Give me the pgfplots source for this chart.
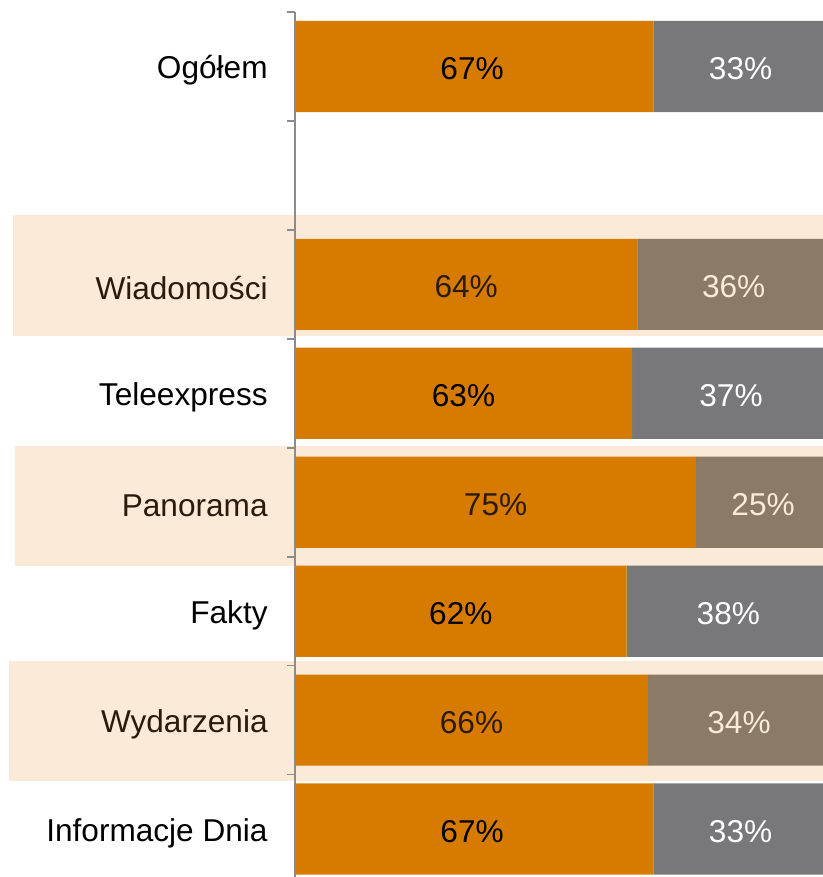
\documentclass[border=0pt]{standalone}
\usepackage{pgfplots}
\pgfplotsset{compat=1.18}
\usepackage{fontspec}
\setmainfont{Liberation Sans}
\definecolor{barorange}{HTML}{D67B00}
\definecolor{bargray}{HTML}{78787A}
\definecolor{bartaupe}{HTML}{8A7A66}
\definecolor{band}{HTML}{FBEAD8}
\definecolor{darktxt}{HTML}{2B1B0C}
\definecolor{axisgray}{HTML}{8C8C8C}
\newcommand{\lab}{\fontsize{15.8}{19}\selectfont}
\begin{document}
\begin{tikzpicture}
\begin{axis}[
  set layers,
  scale only axis, width=264pt, height=432.5pt,
  xmin=0, xmax=98.7, ymin=-0.44, ymax=7.5,
  stack plots=x,
  axis x line=none, axis y line*=left,
  y axis line style={axisgray, line width=0.8pt},
  ytick={0,...,7},
  yticklabels={Informacje Dnia, \textcolor{darktxt}{Wydarzenia}, Fakty,
    \textcolor{darktxt}{Panorama}, Teleexpress, \textcolor{darktxt}{Wiadomości}, {}, Ogółem},
  major tick length=0pt,
  minor ytick={0.5,1.5,...,7.5},
  minor tick length=4pt, tick align=outside, ytick pos=left,
  minor tick style={axisgray, line width=0.8pt},
  yticklabel style={font=\lab, anchor=east, inner sep=0pt, xshift=-13.5pt, yshift=-2pt},
  every node near coord/.append style={yshift=-1.2pt},
  clip=false,
]
% beige bands behind the alternate rows
\addplot[stack plots=false, fill=band, draw=none, on layer=axis background]
  coordinates {(-52.7,5.632) (98.7,5.632) (98.7,4.529) (-52.7,4.529)} -- cycle;
\addplot[stack plots=false, fill=band, draw=none, on layer=axis background]
  coordinates {(-52.3,3.517) (98.7,3.517) (98.7,2.413) (-52.3,2.413)} -- cycle;
\addplot[stack plots=false, fill=band, draw=none, on layer=axis background]
  coordinates {(-53.5,1.539) (98.7,1.539) (98.7,0.444) (-53.5,0.444)} -- cycle;

\addplot[xbar, bar width=0.837, fill=barorange, draw=none]
  coordinates {(67,7) (64,5) (63,4) (75,3) (62,2) (66,1) (67,0)};
\addplot[xbar, bar width=0.837, fill=bargray, draw=none]
  coordinates {(33,7) (0,5) (37,4) (0,3) (38,2) (0,1) (33,0)};
\addplot[xbar, bar width=0.837, fill=bartaupe, draw=none]
  coordinates {(0,7) (36,5) (0,4) (25,3) (0,2) (34,1) (0,0)};

% value labels
\addplot[stack plots=false, only marks, mark=none, nodes near coords, point meta=explicit symbolic,
  every node near coord/.append style={anchor=center, font=\lab, text=black}]
  coordinates {(33.1,7) [67\%] (31.5,4) [63\%] (31,2) [62\%] (33.1,0) [67\%]};
\addplot[stack plots=false, only marks, mark=none, nodes near coords, point meta=explicit symbolic,
  every node near coord/.append style={anchor=center, font=\lab, text=darktxt}]
  coordinates {(32,5) [64\%] (37.5,3) [75\%] (33,1) [66\%]};
\addplot[stack plots=false, only marks, mark=none, nodes near coords, point meta=explicit symbolic,
  every node near coord/.append style={anchor=center, font=\lab, text=white}]
  coordinates {(83.3,7) [33\%] (81.5,4) [37\%] (81,2) [38\%] (83.3,0) [33\%]};
\addplot[stack plots=false, only marks, mark=none, nodes near coords, point meta=explicit symbolic,
  every node near coord/.append style={anchor=center, font=\lab, text=band}]
  coordinates {(82,5) [36\%] (87.5,3) [25\%] (83,1) [34\%]};
\end{axis}
\pgfresetboundingbox
\useasboundingbox ([xshift=-147.5pt]current axis.south west) rectangle ([yshift=6pt]current axis.north east);
\end{tikzpicture}
\end{document}
